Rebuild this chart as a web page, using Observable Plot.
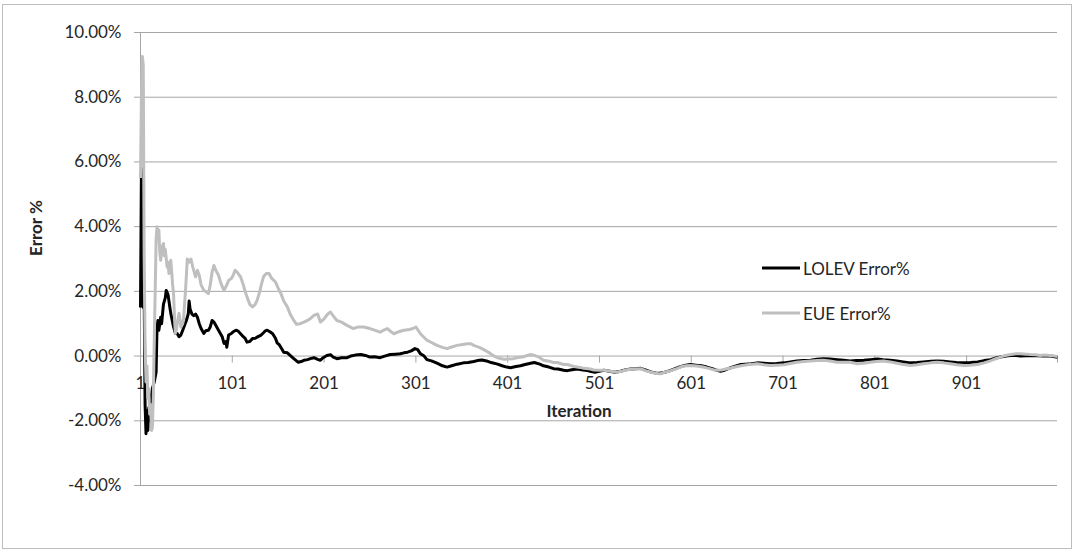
<!DOCTYPE html>
<html><head><meta charset="utf-8">
<script src="https://cdn.jsdelivr.net/npm/d3@7"></script>
<script src="https://cdn.jsdelivr.net/npm/@observablehq/plot@0.6"></script>
<style>
body{margin:0;background:#fff;}
#wrap{position:relative;width:1075px;height:552px;overflow:hidden;}
#border{position:absolute;left:2px;top:4px;width:1068px;height:543px;border:1px solid #bdbdbd;pointer-events:none;}
</style></head><body><div id="wrap"><div id="border"></div></div>
<script>
// Series names, colours and ticks
const seriesNames = ["LOLEV Error%", "EUE Error%"];
const seriesColors = ["#000000", "#bfbfbf"];
const yTicks = [-4, -2, 0, 2, 4, 6, 8, 10];
const xTickLabels = [1, 101, 201, 301, 401, 501, 601, 701, 801, 901];
const xTickMarks = [1, 101, 201, 301, 401, 501, 601, 701, 801, 901, 1000];
const yTitle = "Error %";
const xTitle = "Iteration";

// LOLEV Error% : [iteration, error %]
const lolev = [[1,1.5],[2,5.8],[3,4.2],[4,1.5],[5,1.9],[6,-1.5],[7,-2.4],[8,-1.7],[9,-2.3],[10,-1.6],[11,-2.0],[12,-1.4],[14,-1.0],[16,-0.8],[18,-0.5],[19,0.9],[20,1.1],[21,0.8],[23,1.2],[24,1.0],[26,1.6],[28,1.8],[29,2.03],[31,1.9],[33,1.5],[34,1.32],[37,0.9],[39,0.7],[41,0.7],[43,0.6],[45,0.65],[47,0.8],[49,0.95],[51,1.1],[53,1.3],[54,1.7],[55,1.45],[57,1.3],[59,1.25],[61,1.3],[63,1.2],[65,1.0],[67,0.85],[70,0.7],[72,0.78],[75,0.8],[77,0.9],[79,1.1],[81,1.05],[83,0.95],[86,0.8],[88,0.7],[90,0.6],[92,0.39],[94,0.45],[95,0.27],[97,0.65],[100,0.7],[102,0.75],[105,0.8],[107,0.78],[110,0.69],[113,0.6],[115,0.55],[117,0.43],[120,0.45],[123,0.54],[126,0.55],[129,0.6],[132,0.64],[135,0.72],[137,0.78],[139,0.8],[142,0.75],[145,0.69],[148,0.55],[150,0.4],[152,0.36],[155,0.22],[157,0.12],[161,0.1],[164,0.02],[168,-0.08],[171,-0.15],[173,-0.19],[176,-0.17],[179,-0.13],[183,-0.11],[186,-0.08],[190,-0.05],[194,-0.1],[197,-0.13],[200,-0.05],[204,0.02],[208,0.04],[211,-0.03],[215,-0.08],[220,-0.05],[226,-0.05],[230,0.0],[235,0.03],[241,0.05],[246,0.02],[251,-0.03],[256,-0.02],[262,-0.05],[267,0.0],[273,0.05],[279,0.06],[284,0.07],[288,0.1],[292,0.12],[296,0.16],[300,0.23],[303,0.2],[306,0.07],[310,0.0],[313,-0.11],[318,-0.15],[324,-0.22],[330,-0.3],[335,-0.34],[340,-0.3],[346,-0.25],[353,-0.21],[358,-0.2],[364,-0.17],[368,-0.14],[373,-0.12],[378,-0.15],[383,-0.2],[390,-0.25],[395,-0.3],[400,-0.34],[404,-0.36],[410,-0.32],[415,-0.3],[420,-0.26],[426,-0.22],[430,-0.2],[436,-0.25],[440,-0.3],[446,-0.34],[451,-0.39],[456,-0.4],[462,-0.44],[466,-0.45],[471,-0.42],[477,-0.4],[483,-0.43],[488,-0.45],[492,-0.48],[496,-0.5],[502,-0.46],[506,-0.44],[512,-0.47],[518,-0.5],[524,-0.47],[530,-0.42],[535,-0.4],[540,-0.39],[546,-0.38],[551,-0.43],[557,-0.49],[562,-0.52],[567,-0.53],[572,-0.5],[578,-0.45],[584,-0.38],[589,-0.33],[595,-0.28],[600,-0.26],[606,-0.28],[612,-0.3],[618,-0.34],[624,-0.39],[629,-0.44],[633,-0.47],[638,-0.43],[644,-0.36],[649,-0.31],[655,-0.26],[660,-0.25],[666,-0.24],[673,-0.21],[680,-0.22],[687,-0.24],[694,-0.23],[702,-0.21],[709,-0.18],[716,-0.15],[723,-0.14],[731,-0.13],[738,-0.1],[745,-0.08],[752,-0.09],[760,-0.11],[767,-0.13],[774,-0.15],[781,-0.14],[789,-0.13],[796,-0.11],[804,-0.09],[810,-0.11],[818,-0.13],[825,-0.15],[832,-0.18],[840,-0.21],[847,-0.2],[854,-0.18],[862,-0.16],[869,-0.15],[876,-0.16],[883,-0.18],[890,-0.2],[898,-0.21],[905,-0.2],[913,-0.18],[920,-0.14],[927,-0.11],[933,-0.06],[938,-0.03],[944,0.0],[949,0.02],[955,0.02],[960,0.0],[966,0.01],[972,0.02],[978,0.01],[985,0.0],[992,0.0],[997,-0.02],[1000,-0.04]];

// EUE Error% : [iteration, error %]
const eue = [[1,5.5],[2,8.0],[3,9.26],[4,9.0],[5,3.0],[6,0.3],[7,-0.8],[8,-0.3],[9,-1.3],[10,-1.0],[11,-1.8],[12,-1.5],[13,-2.3],[14,-2.2],[15,-1.2],[16,0.5],[17,2.0],[18,3.6],[19,4.0],[20,3.6],[21,3.9],[22,3.2],[23,2.96],[24,3.2],[25,3.4],[26,3.48],[27,3.1],[28,3.3],[30,2.75],[31,2.9],[32,2.55],[33,2.7],[34,2.96],[35,2.6],[36,2.2],[37,1.94],[38,1.2],[39,0.7],[40,0.8],[41,1.0],[43,1.32],[45,0.9],[47,1.0],[48,1.2],[50,2.0],[52,3.0],[54,2.9],[56,3.0],[58,2.75],[61,2.45],[63,2.65],[65,2.5],[67,2.2],[70,2.03],[72,2.0],[75,1.93],[77,2.2],[79,2.6],[81,2.8],[83,2.65],[86,2.5],[88,2.3],[90,2.15],[92,2.03],[95,2.2],[97,2.34],[100,2.4],[102,2.5],[104,2.65],[106,2.6],[110,2.45],[113,2.2],[115,2.0],[117,1.83],[120,1.6],[123,1.52],[126,1.6],[128,1.72],[131,2.0],[133,2.25],[135,2.45],[138,2.55],[141,2.55],[144,2.4],[148,2.29],[151,2.1],[154,1.93],[157,1.7],[161,1.52],[164,1.3],[168,1.1],[171,0.98],[175,1.0],[179,1.05],[183,1.1],[186,1.16],[190,1.26],[194,1.3],[197,1.05],[201,1.15],[205,1.3],[208,1.36],[212,1.2],[215,1.1],[220,1.05],[226,0.95],[233,0.85],[238,0.9],[244,0.9],[251,0.85],[256,0.8],[262,0.74],[266,0.8],[270,0.85],[274,0.75],[277,0.69],[282,0.75],[288,0.8],[294,0.82],[298,0.85],[301,0.9],[306,0.69],[313,0.49],[318,0.42],[324,0.33],[330,0.27],[335,0.23],[340,0.28],[346,0.33],[352,0.36],[357,0.38],[361,0.38],[364,0.33],[370,0.27],[375,0.2],[380,0.12],[386,0.0],[391,-0.06],[397,-0.1],[402,-0.09],[407,-0.08],[411,-0.05],[418,-0.02],[426,0.05],[430,0.02],[435,-0.03],[440,-0.13],[445,-0.15],[451,-0.2],[455,-0.2],[462,-0.26],[466,-0.26],[473,-0.32],[480,-0.35],[484,-0.38],[491,-0.4],[495,-0.43],[502,-0.44],[506,-0.44],[513,-0.47],[520,-0.5],[526,-0.46],[531,-0.42],[538,-0.4],[546,-0.39],[551,-0.45],[557,-0.5],[562,-0.53],[567,-0.55],[572,-0.5],[578,-0.46],[584,-0.4],[589,-0.34],[595,-0.3],[600,-0.29],[607,-0.31],[614,-0.34],[620,-0.38],[625,-0.42],[629,-0.44],[634,-0.43],[640,-0.39],[644,-0.37],[650,-0.33],[655,-0.3],[662,-0.27],[668,-0.25],[673,-0.24],[680,-0.27],[687,-0.29],[695,-0.28],[702,-0.27],[709,-0.23],[716,-0.19],[724,-0.17],[731,-0.15],[738,-0.14],[745,-0.13],[752,-0.15],[760,-0.19],[767,-0.19],[774,-0.19],[782,-0.24],[789,-0.22],[796,-0.19],[803,-0.17],[810,-0.15],[818,-0.18],[825,-0.22],[832,-0.26],[840,-0.29],[847,-0.27],[854,-0.24],[862,-0.21],[869,-0.19],[876,-0.21],[883,-0.24],[890,-0.27],[898,-0.29],[905,-0.28],[913,-0.26],[920,-0.21],[927,-0.15],[932,-0.09],[938,-0.03],[943,0.02],[949,0.05],[955,0.07],[960,0.07],[966,0.06],[970,0.05],[976,0.04],[981,0.02],[986,0.03],[992,0.02],[997,0.0],[1000,-0.01]];

const rows = [
  ...lolev.map(([i, v]) => ({series: seriesNames[0], i, v})),
  ...eue.map(([i, v]) => ({series: seriesNames[1], i, v}))
];

const FONT = "Lato, 'Open Sans', sans-serif";
const TXT = "#262626";
const GRID = "#a6a6a6";

const chart = Plot.plot({
  width: 1075, height: 552,
  marginLeft: 140, marginRight: 18, marginTop: 32, marginBottom: 67,
  x: {domain: [1, 1000], axis: null},
  y: {domain: [-4, 10], axis: null},
  color: {domain: seriesNames, range: seriesColors},
  style: {fontFamily: FONT, fontSize: "17px", color: TXT, background: "transparent"},
  marks: [
    Plot.ruleY(yTicks, {stroke: GRID, strokeWidth: 1}),
    Plot.ruleX([1], {stroke: GRID, strokeWidth: 1}),
    Plot.axisY({ticks: yTicks, tickFormat: d => d.toFixed(2) + "%", tickSize: 6, tickPadding: 13,
                stroke: GRID, fill: TXT, fontSize: 17, label: null}),
    Plot.ruleX(xTickMarks, {y1: 0, y2: 0, insetBottom: -7, stroke: GRID}),
    Plot.text(xTickLabels, {x: d => d, y: 0, dy: 27, text: d => String(d), fill: TXT, fontSize: 17}),
    Plot.line(rows, {x: "i", y: "v", z: "series", stroke: "series", strokeWidth: 3,
                     strokeLinejoin: "round", strokeLinecap: "butt"})
  ]
});

document.getElementById("wrap").prepend(chart);

const svg = d3.select(chart);
svg.append("text")
  .attr("transform", "translate(35,228) rotate(-90)")
  .attr("text-anchor", "middle").attr("dominant-baseline", "central")
  .attr("font-family", FONT).attr("font-size", 17).attr("font-weight", "bold")
  .attr("fill", TXT).text(yTitle);
svg.append("text")
  .attr("x", 579).attr("y", 410)
  .attr("text-anchor", "middle").attr("dominant-baseline", "central")
  .attr("font-family", FONT).attr("font-size", 17).attr("font-weight", "bold")
  .attr("fill", TXT).text(xTitle);

// legend
const legendY = [268, 313];
seriesNames.forEach((name, k) => {
  svg.append("line").attr("x1", 762).attr("x2", 800).attr("y1", legendY[k]).attr("y2", legendY[k])
    .attr("stroke", seriesColors[k]).attr("stroke-width", 3);
  svg.append("text").attr("x", 803).attr("y", legendY[k]).attr("dominant-baseline", "central")
    .attr("text-anchor", "start")
    .attr("font-family", FONT).attr("font-size", 17).attr("fill", TXT).text(name);
});
</script>
</body></html>
